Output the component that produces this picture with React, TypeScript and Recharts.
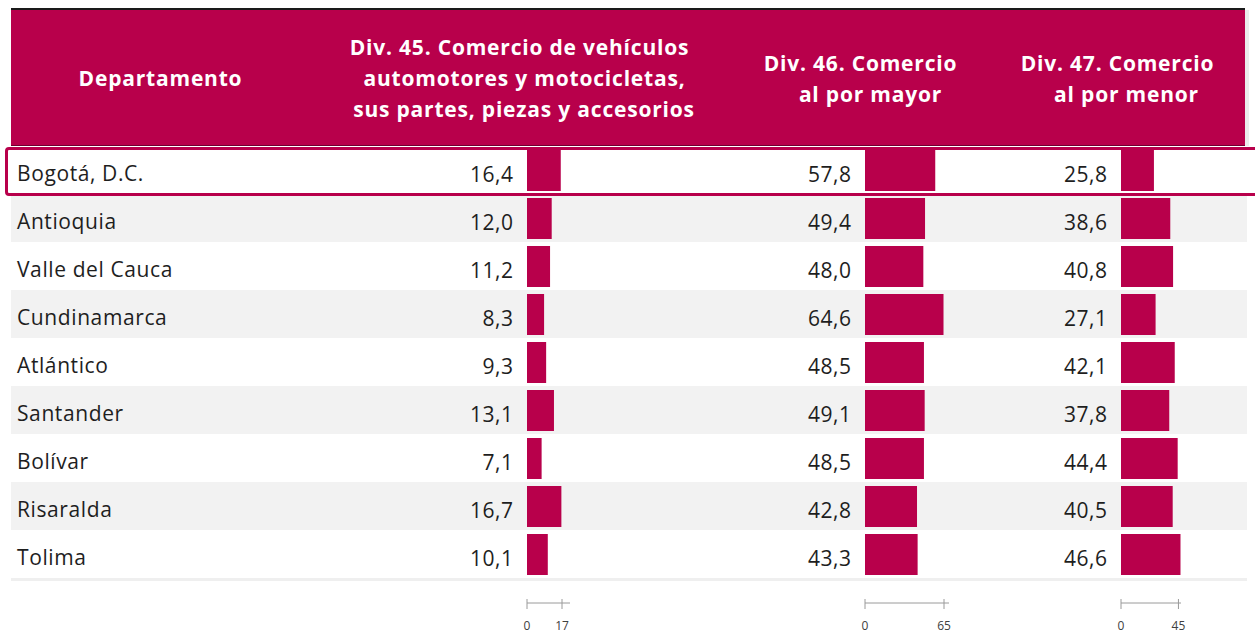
import React from 'react';
import { BarChart, Bar, XAxis, YAxis, LabelList } from 'recharts';

const departamentos = ['Bogotá, D.C.', 'Antioquia', 'Valle del Cauca', 'Cundinamarca', 'Atlántico', 'Santander', 'Bolívar', 'Risaralda', 'Tolima'];
const div45 = [16.4, 12.0, 11.2, 8.3, 9.3, 13.1, 7.1, 16.7, 10.1];
const div46 = [57.8, 49.4, 48.0, 64.6, 48.5, 49.1, 48.5, 42.8, 43.3];
const div47 = [25.8, 38.6, 40.8, 27.1, 42.1, 37.8, 44.4, 40.5, 46.6];
const axisTicks45 = [0, 17];
const axisTicks46 = [0, 65];
const axisTicks47 = [0, 45];

const data = departamentos.map((name, i) => ({ name, d45: div45[i], d46: div46[i], d47: div47[i] }));

const W = 1255;
const H = 634;
const MAGENTA = '#B8004B';
const FONT = '"Open Sans", "Noto Sans", sans-serif';
const TOP = 146;
const ROW_H = 48;
const AXIS_GAP = 25;
const AXIS_H = H - TOP - ROW_H * departamentos.length - AXIS_GAP;

const fmt = (v: number) => v.toFixed(1).replace('.', ',');

const columns = [
  { key: 'd45', start: 527, len: 43, pad: 8, domain: [0, 17], ticks: axisTicks45 },
  { key: 'd46', start: 865, len: 84, pad: 5, domain: [0, 65], ticks: axisTicks46 },
  { key: 'd47', start: 1121, len: 60, pad: 0, domain: [0, 47], ticks: axisTicks47 },
];

const AxisTick = (props: any) => {
  const { x, y, payload } = props;
  return (
    <g>
      <line x1={x} x2={x} y1={y - 4} y2={y + 6} stroke="#9a9a9a" strokeWidth={1} />
      <text x={x} y={y + 27} textAnchor="middle" fontSize={12} fill="#404040" fontFamily={FONT}>
        {payload.value}
      </text>
    </g>
  );
};

const ValueLabel = (props: any) => {
  const { x, y, height, value } = props;
  return (
    <text
      x={Number(x) - 13.5}
      y={Number(y) + Number(height) / 2 + 11.5}
      textAnchor="end"
      fontSize={21}
      letterSpacing={0.5}
      fill="#1e1e1e"
      fontFamily={FONT}
    >
      {fmt(Number(value))}
    </text>
  );
};

const RowTick = (props: any) => {
  const { x, y, payload, index } = props;
  return (
    <g>
      <rect x={x} y={y - ROW_H / 2} width={1236} height={ROW_H} fill={index % 2 === 1 ? '#F2F2F2' : '#FFFFFF'} />
      <text x={x + 6} y={y + 10.5} textAnchor="start" fontSize={21} letterSpacing={0.6} fill="#1e1e1e" fontFamily={FONT}>
        {payload.value}
      </text>
    </g>
  );
};

const headerText = { fill: '#FFFFFF', fontWeight: 700, fontSize: 21, fontFamily: FONT, letterSpacing: 0.8 } as const;

export default function App() {
  return (
    <div style={{ position: 'absolute', left: 0, top: 0, width: W, height: H, overflow: 'hidden', background: '#fff', fontFamily: FONT }}>
      {/* Row backgrounds and department names */}
      <div style={{ position: 'absolute', left: 0, top: 0 }}>
        <BarChart width={W} height={H} data={data} layout="vertical" margin={{ top: TOP, left: 0, right: W - 1247, bottom: AXIS_H + AXIS_GAP }}>
          <XAxis type="number" hide domain={[0, 1]} />
          <YAxis
            type="category"
            dataKey="name"
            width={11}
            tickSize={0}
            tickMargin={0}
            axisLine={false}
            tickLine={false}
            interval={0}
            tick={<RowTick />}
          />
        </BarChart>
      </div>
      {/* bottom separator */}
      <div style={{ position: 'absolute', left: 11, top: TOP + ROW_H * departamentos.length, width: 1236, height: 3, background: '#EFEFEF' }} />

      {columns.map((c) => (
        <div key={c.key} style={{ position: 'absolute', left: 0, top: 0 }}>
          <BarChart
            width={W}
            height={H}
            data={data}
            layout="vertical"
            barSize={41}
            margin={{ top: TOP, left: c.start, right: W - c.start - c.len, bottom: 0 }}
          >
            <XAxis
              type="number"
              domain={c.domain}
              ticks={c.ticks}
              interval={0}
              height={AXIS_H}
              tickSize={0}
              tickMargin={0}
              tickLine={false}
              axisLine={{ stroke: '#9a9a9a', strokeWidth: 1 }}
              padding={{ left: 0, right: c.pad }}
              tick={<AxisTick />}
            />
            <YAxis type="category" dataKey="name" hide width={0} padding={{ top: 0, bottom: AXIS_GAP }} />
            <Bar dataKey={c.key} fill={MAGENTA} isAnimationActive={false}>
              <LabelList dataKey={c.key} content={<ValueLabel />} />
            </Bar>
          </BarChart>
        </div>
      ))}

      {/* Header */}
      <svg width={W} height={150} style={{ position: 'absolute', left: 0, top: 0 }}>
        <rect x={11} y={8} width={1234} height={2} fill="#1a1a1a" />
        <rect x={11} y={10} width={1234} height={136} fill={MAGENTA} />
        <rect x={11} y={145} width={1234} height={1} fill="#6e0030" />
        <rect x={1245} y={10} width={4} height={136} fill="#ECECEC" />
        <text x={160.5} y={86} textAnchor="middle" {...headerText}>Departamento</text>
        <text x={519.5} y={55} textAnchor="middle" {...headerText}>Div. 45. Comercio de vehículos</text>
        <text x={524.5} y={86} textAnchor="middle" {...headerText}>automotores y motocicletas,</text>
        <text x={524} y={117} textAnchor="middle" {...headerText}>sus partes, piezas y accesorios</text>
        <text x={860.5} y={71} textAnchor="middle" {...headerText}>Div. 46. Comercio</text>
        <text x={870.5} y={102} textAnchor="middle" {...headerText}>al por mayor</text>
        <text x={1117.5} y={71} textAnchor="middle" {...headerText}>Div. 47. Comercio</text>
        <text x={1126.5} y={102} textAnchor="middle" {...headerText}>al por menor</text>
      </svg>

      {/* Highlighted first row */}
      <div
        style={{
          position: 'absolute',
          left: 5,
          top: 147,
          width: 1270,
          height: 49,
          border: `3px solid ${MAGENTA}`,
          borderRadius: 4,
          boxSizing: 'border-box',
        }}
      />
    </div>
  );
}
